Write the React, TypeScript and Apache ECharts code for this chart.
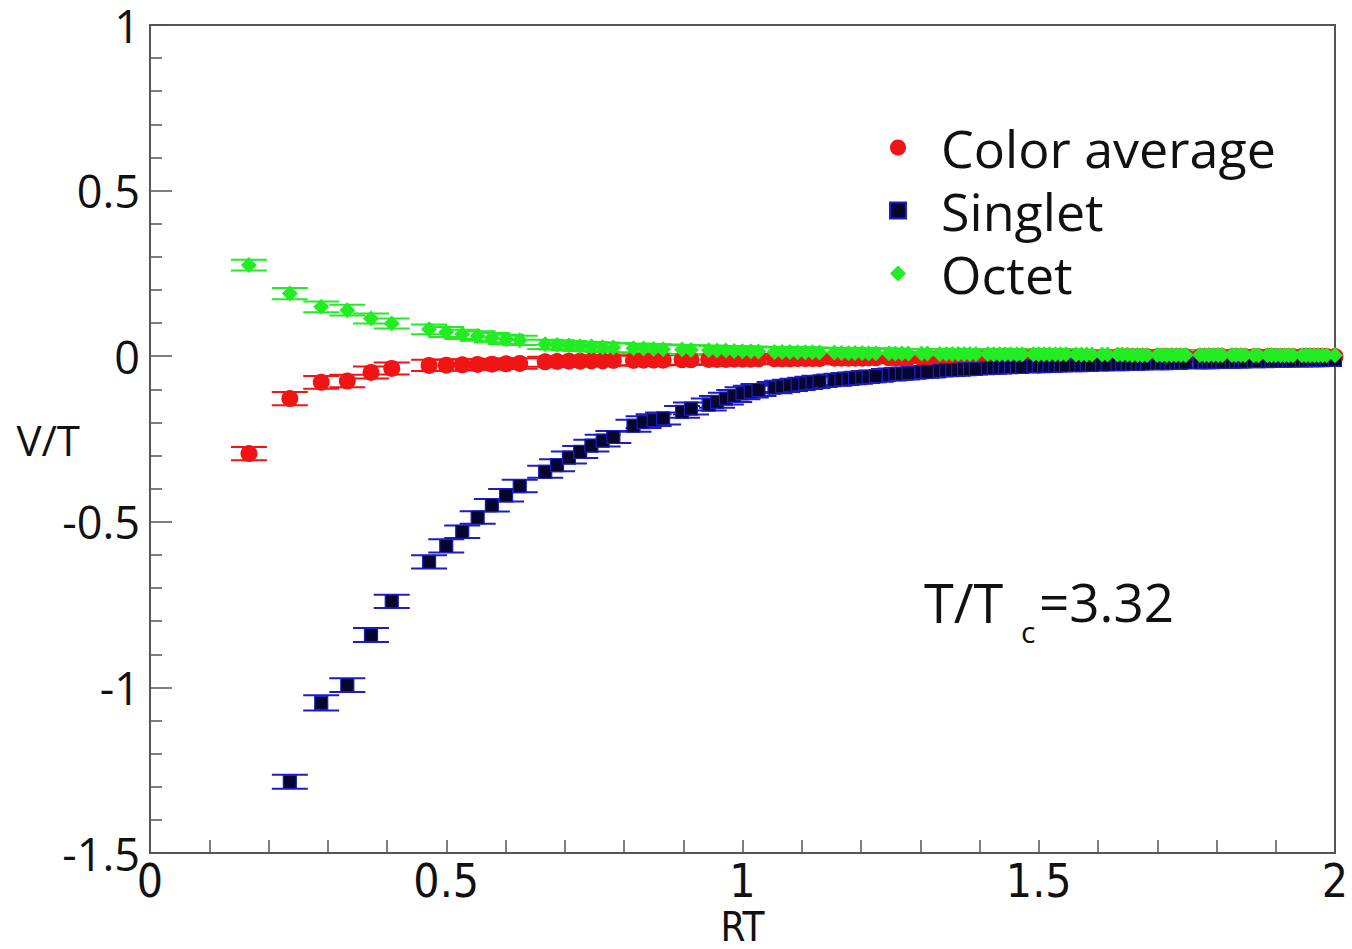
import React, { useEffect, useRef } from "react";
import * as echarts from "echarts";

// RT positions of the lattice separations
const rt = [
  0.167, 0.236, 0.289, 0.333, 0.373, 0.408, 0.471, 0.5, 0.527, 0.553, 0.577, 0.601, 0.624,
  0.667, 0.687, 0.707, 0.726, 0.745, 0.764, 0.782,
  0.816, 0.833, 0.85, 0.866,
  0.898, 0.913,
  0.943, 0.957, 0.972, 0.986, 1.0, 1.014, 1.027,
  1.054, 1.067, 1.08, 1.093, 1.106, 1.118, 1.13,
  1.155, 1.167, 1.179, 1.19, 1.202, 1.213, 1.225,
  1.247, 1.258, 1.269, 1.28,
  1.302, 1.312,
  1.333, 1.344, 1.354, 1.364, 1.374, 1.384, 1.394,
  1.414, 1.424, 1.434, 1.443, 1.453, 1.463, 1.472,
  1.491, 1.5, 1.509, 1.518, 1.528, 1.537, 1.546,
  1.563, 1.572, 1.581, 1.59,
  1.607, 1.616,
  1.633, 1.641, 1.65, 1.658, 1.667, 1.675, 1.683,
  1.7, 1.708, 1.716, 1.724, 1.732, 1.74, 1.748,
  1.772, 1.78, 1.787, 1.795, 1.803, 1.81,
  1.826, 1.833, 1.841, 1.848,
  1.863, 1.871,
  1.886, 1.893, 1.9, 1.908, 1.915, 1.922, 1.929,
  1.944, 1.951, 1.958, 1.965, 1.972, 1.979, 1.986,
  2.0,
];

const colorAverage = [
  -0.294, -0.128, -0.079, -0.075, -0.049, -0.037, -0.028, -0.027, -0.026, -0.025, -0.024, -0.023, -0.022,
  -0.017, -0.016, -0.015, -0.015, -0.014, -0.014, -0.013,
  -0.013, -0.012, -0.012, -0.012,
  -0.011, -0.011,
  -0.01, -0.01, -0.01, -0.009, -0.009, -0.009, -0.008,
  -0.008, -0.008, -0.008, -0.007, -0.007, -0.007, -0.007,
  -0.006, -0.006, -0.006, -0.006, -0.006, -0.005, -0.005,
  -0.005, -0.005, -0.005, -0.005,
  -0.005, -0.004,
  -0.004, -0.004, -0.004, -0.004, -0.004, -0.004, -0.004,
  -0.004, -0.004, -0.004, -0.003, -0.003, -0.003, -0.003,
  -0.003, -0.003, -0.003, -0.003, -0.003, -0.003, -0.003,
  -0.003, -0.003, -0.003, -0.003,
  -0.003, -0.003,
  -0.002, -0.002, -0.002, -0.002, -0.002, -0.002, -0.002,
  -0.002, -0.002, -0.002, -0.002, -0.002, -0.002, -0.002,
  -0.002, -0.002, -0.002, -0.002, -0.002, -0.002,
  -0.002, -0.002, -0.002, -0.002,
  -0.002, -0.002,
  -0.002, -0.002, -0.002, -0.002, -0.002, -0.002, -0.002,
  -0.001, -0.001, -0.001, -0.001, -0.001, -0.001, -0.001,
  -0.001,
];
const colorAverageErr = [
  0.02, 0.02, 0.019, 0.019, 0.018, 0.018, 0.017, 0.017, 0.017, 0.016, 0.016, 0.016, 0.016,
  0.015, 0.015, 0.015, 0.015, 0.015, 0.015, 0.015,
  0.015, 0.015, 0.015, 0.015,
  0.015, 0.015,
  0.015, 0.015, 0.015, 0.015, 0.015, 0.015, 0.015,
  0.015, 0.015, 0.015, 0.015, 0.015, 0.015, 0.015,
  0.015, 0.015, 0.015, 0.015, 0.015, 0.015, 0.015,
  0.015, 0.015, 0.015, 0.015,
  0.015, 0.015,
  0.015, 0.015, 0.015, 0.015, 0.015, 0.015, 0.015,
  0.015, 0.015, 0.015, 0.015, 0.015, 0.015, 0.015,
  0.015, 0.015, 0.015, 0.015, 0.015, 0.015, 0.015,
  0.015, 0.015, 0.015, 0.015,
  0.015, 0.015,
  0.015, 0.015, 0.015, 0.015, 0.015, 0.015, 0.015,
  0.015, 0.015, 0.015, 0.015, 0.015, 0.015, 0.015,
  0.015, 0.015, 0.015, 0.015, 0.015, 0.015,
  0.015, 0.015, 0.015, 0.015,
  0.015, 0.015,
  0.015, 0.015, 0.015, 0.015, 0.015, 0.015, 0.015,
  0.015, 0.015, 0.015, 0.015, 0.015, 0.015, 0.015,
  0.015,
];

// Singlet starts at the second separation
const singletRT = rt.slice(1);
const singlet = [
  -1.285, -1.047, -0.993, -0.842, -0.74, -0.621, -0.573, -0.53, -0.487, -0.45, -0.42, -0.392,
  -0.349, -0.329, -0.306, -0.289, -0.27, -0.255, -0.244,
  -0.21, -0.199, -0.193, -0.188,
  -0.168, -0.158,
  -0.146, -0.138, -0.128, -0.12, -0.112, -0.107, -0.102,
  -0.095, -0.091, -0.088, -0.085, -0.082, -0.079, -0.076,
  -0.072, -0.07, -0.068, -0.066, -0.064, -0.062, -0.06,
  -0.056, -0.054, -0.053, -0.051,
  -0.048, -0.047,
  -0.044, -0.043, -0.042, -0.041, -0.04, -0.039, -0.038,
  -0.036, -0.035, -0.034, -0.034, -0.033, -0.032, -0.032,
  -0.031, -0.03, -0.03, -0.029, -0.029, -0.028, -0.028,
  -0.027, -0.027, -0.026, -0.026,
  -0.025, -0.025,
  -0.024, -0.024, -0.023, -0.023, -0.023, -0.022, -0.022,
  -0.021, -0.021, -0.021, -0.02, -0.02, -0.02, -0.019,
  -0.019, -0.018, -0.018, -0.018, -0.017, -0.017,
  -0.017, -0.016, -0.016, -0.016,
  -0.015, -0.015,
  -0.015, -0.014, -0.014, -0.014, -0.014, -0.013, -0.013,
  -0.013, -0.013, -0.012, -0.012, -0.012, -0.012, -0.011,
  -0.011,
];
const singletErr = [
  0.021, 0.023, 0.021, 0.021, 0.02, 0.02, 0.02, 0.019, 0.019, 0.019, 0.019, 0.019,
  0.018, 0.018, 0.018, 0.018, 0.018, 0.018, 0.018,
  0.018, 0.018, 0.018, 0.018,
  0.018, 0.018,
  0.018, 0.018, 0.018, 0.018, 0.018, 0.018, 0.018,
  0.017, 0.017, 0.017, 0.017, 0.017, 0.017, 0.017,
  0.017, 0.017, 0.017, 0.017, 0.017, 0.017, 0.017,
  0.017, 0.017, 0.017, 0.017,
  0.017, 0.017,
  0.016, 0.016, 0.016, 0.016, 0.016, 0.016, 0.016,
  0.016, 0.016, 0.016, 0.016, 0.016, 0.016, 0.016,
  0.016, 0.016, 0.016, 0.016, 0.016, 0.016, 0.016,
  0.016, 0.016, 0.016, 0.016,
  0.016, 0.016,
  0.016, 0.016, 0.016, 0.016, 0.016, 0.016, 0.016,
  0.016, 0.016, 0.016, 0.016, 0.016, 0.016, 0.016,
  0.016, 0.016, 0.016, 0.016, 0.016, 0.016,
  0.016, 0.016, 0.016, 0.016,
  0.016, 0.016,
  0.016, 0.016, 0.016, 0.016, 0.016, 0.016, 0.016,
  0.016, 0.016, 0.016, 0.016, 0.016, 0.016, 0.016,
  0.016,
];

const octet = [
  0.275, 0.189, 0.149, 0.139, 0.114, 0.099, 0.081, 0.073, 0.066, 0.061, 0.056, 0.051, 0.048,
  0.036, 0.034, 0.032, 0.03, 0.029, 0.027, 0.026,
  0.024, 0.023, 0.022, 0.021,
  0.02, 0.019,
  0.018, 0.017, 0.017, 0.016, 0.015, 0.015, 0.014,
  0.013, 0.013, 0.013, 0.012, 0.012, 0.012, 0.011,
  0.011, 0.01, 0.01, 0.01, 0.01, 0.009, 0.009,
  0.009, 0.008, 0.008, 0.008,
  0.008, 0.008,
  0.007, 0.007, 0.007, 0.007, 0.007, 0.007, 0.007,
  0.007, 0.006, 0.006, 0.006, 0.006, 0.006, 0.006,
  0.006, 0.006, 0.006, 0.006, 0.006, 0.006, 0.006,
  0.005, 0.005, 0.005, 0.005,
  0.005, 0.005,
  0.005, 0.005, 0.005, 0.004, 0.004, 0.004, 0.004,
  0.004, 0.004, 0.004, 0.004, 0.004, 0.004, 0.004,
  0.004, 0.004, 0.004, 0.004, 0.004, 0.004,
  0.004, 0.004, 0.004, 0.004,
  0.003, 0.003,
  0.003, 0.003, 0.003, 0.003, 0.003, 0.003, 0.003,
  0.003, 0.003, 0.003, 0.003, 0.003, 0.003, 0.003,
  0.003,
];
const octetErr = [
  0.016, 0.017, 0.016, 0.016, 0.015, 0.015, 0.015, 0.015, 0.014, 0.014, 0.014, 0.014, 0.014,
  0.014, 0.014, 0.014, 0.014, 0.014, 0.014, 0.014,
  0.014, 0.014, 0.014, 0.014,
  0.014, 0.014,
  0.014, 0.014, 0.014, 0.014, 0.014, 0.014, 0.014,
  0.014, 0.014, 0.014, 0.014, 0.014, 0.014, 0.014,
  0.014, 0.014, 0.014, 0.014, 0.014, 0.014, 0.014,
  0.014, 0.014, 0.014, 0.014,
  0.014, 0.014,
  0.014, 0.014, 0.014, 0.014, 0.014, 0.014, 0.014,
  0.014, 0.014, 0.014, 0.014, 0.014, 0.014, 0.014,
  0.014, 0.014, 0.014, 0.014, 0.014, 0.014, 0.014,
  0.014, 0.014, 0.014, 0.014,
  0.014, 0.014,
  0.014, 0.014, 0.014, 0.014, 0.014, 0.014, 0.014,
  0.014, 0.014, 0.014, 0.014, 0.014, 0.014, 0.014,
  0.014, 0.014, 0.014, 0.014, 0.014, 0.014,
  0.014, 0.014, 0.014, 0.014,
  0.014, 0.014,
  0.014, 0.014, 0.014, 0.014, 0.014, 0.014, 0.014,
  0.014, 0.014, 0.014, 0.014, 0.014, 0.014, 0.014,
  0.014,
];

const RED = "#f01414";
const NAVY = "#05052e";
const BLUE = "#1c1cc8";
const GREEN = "#22ec22";
const SANS = "'Open Sans', 'Noto Sans', sans-serif";
const NARROW = "'Liberation Sans Narrow', 'DejaVu Sans Condensed', 'Open Sans', sans-serif";

function errorRender(color: string) {
  return (params: any, api: any) => {
    const x = api.value(0);
    const y = api.value(1);
    const e = api.value(2);
    const top = api.coord([x, y + e]);
    const bot = api.coord([x, y - e]);
    const hw = 18;
    const style = { stroke: color, lineWidth: 2 };
    return {
      type: "group",
      children: [
        { type: "line", shape: { x1: top[0], y1: top[1], x2: bot[0], y2: bot[1] }, style },
        { type: "line", shape: { x1: top[0] - hw, y1: top[1], x2: top[0] + hw, y2: top[1] }, style },
        { type: "line", shape: { x1: bot[0] - hw, y1: bot[1], x2: bot[0] + hw, y2: bot[1] }, style },
      ],
    };
  };
}

export default function App() {
  const ref = useRef<HTMLDivElement>(null);

  useEffect(() => {
    if (!ref.current) return;
    const chart = echarts.init(ref.current, undefined, { renderer: "svg" });

    const caData = colorAverage.map((v, i) => [rt[i], v, colorAverageErr[i]]);
    const sData = singlet.map((v, i) => [singletRT[i], v, singletErr[i]]);
    const oData = octet.map((v, i) => [rt[i], v, octetErr[i]]);

    chart.setOption({
      animation: false,
      backgroundColor: "#ffffff",
      grid: {
        left: 150,
        top: 25,
        right: 17,
        bottom: 96,
        containLabel: false,
        outerBoundsMode: "none",
        show: true,
        borderColor: "#555",
        borderWidth: 2,
        backgroundColor: "transparent",
      },
      xAxis: {
        type: "value",
        min: 0,
        max: 2,
        interval: 0.5,
        name: "RT",
        nameLocation: "middle",
        nameGap: 54,
        nameMoveOverlap: false,
        nameTextStyle: { fontSize: 40, fontFamily: NARROW, color: "#111", verticalAlign: "top" },
        axisLine: { show: true, onZero: false, lineStyle: { color: "#555", width: 2 } },
        axisTick: { show: true, inside: true, length: 13, lineStyle: { color: "#555", width: 1.5 } },
        minorTick: { show: true, splitNumber: 5, length: 13, lineStyle: { color: "#555", width: 1.5 } },
        splitLine: { show: false },
        axisLabel: {
          fontSize: 46,
          fontFamily: NARROW,
          color: "#111",
          margin: 5,
          formatter: (v: number) => String(v),
        },
      },
      yAxis: {
        type: "value",
        min: -1.5,
        max: 1,
        interval: 0.5,
        name: "V/T",
        nameLocation: "middle",
        nameRotate: 0,
        nameGap: 70,
        nameMoveOverlap: false,
        nameTextStyle: { fontSize: 42, fontFamily: SANS, color: "#111", align: "right" },
        axisLine: { show: true, onZero: false, lineStyle: { color: "#555", width: 2 } },
        axisTick: { show: true, inside: true, length: 22, lineStyle: { color: "#555", width: 1.5 } },
        minorTick: { show: true, splitNumber: 5, length: 12, lineStyle: { color: "#555", width: 1.5 } },
        splitLine: { show: false },
        axisLabel: {
          fontSize: 45,
          fontFamily: SANS,
          color: "#111",
          margin: 10,
          formatter: (v: number) => String(v),
        },
      },
      legend: {
        data: ["Color average", "Singlet", "Octet"],
        orient: "vertical",
        left: 889,
        top: 116,
        padding: 0,
        itemGap: 0,
        itemWidth: 16,
        itemHeight: 16,
        selectedMode: false,
        textStyle: {
          fontSize: 52,
          fontFamily: SANS,
          color: "#111",
          lineHeight: 63,
          padding: [0, 0, 0, 30],
        },
      },
      graphic: [
        { type: "text", left: 924, top: 575, style: { text: "T/T", fontSize: 54, fontFamily: SANS, fill: "#111" } },
        { type: "text", left: 1021, top: 616, style: { text: "c", fontSize: 30, fontFamily: SANS, fill: "#111" } },
        { type: "text", left: 1039, top: 575, style: { text: "=3.32", fontSize: 53, fontFamily: SANS, fill: "#111" } },
      ],
      series: [
        {
          type: "custom",
          name: "Color average error",
          renderItem: errorRender(RED),
          data: caData,
          encode: { x: 0, y: 1 },
          clip: true,
          silent: true,
        },
        {
          type: "scatter",
          name: "Color average",
          data: caData.map((d) => [d[0], d[1]]),
          symbol: "circle",
          symbolSize: 17,
          itemStyle: { color: RED, opacity: 1 },
          clip: true,
        },
        {
          type: "custom",
          name: "Singlet error",
          renderItem: errorRender(BLUE),
          data: sData,
          encode: { x: 0, y: 1 },
          clip: true,
          silent: true,
        },
        {
          type: "scatter",
          name: "Singlet",
          data: sData.map((d) => [d[0], d[1]]),
          symbol: "rect",
          symbolSize: 13,
          itemStyle: { color: NAVY, borderColor: BLUE, borderWidth: 1.2, opacity: 1 },
          clip: true,
        },
        {
          type: "custom",
          name: "Octet error",
          renderItem: errorRender(GREEN),
          data: oData,
          encode: { x: 0, y: 1 },
          clip: true,
          silent: true,
        },
        {
          type: "scatter",
          name: "Octet",
          data: oData.map((d) => [d[0], d[1]]),
          symbol: "diamond",
          symbolSize: 16,
          itemStyle: { color: GREEN, opacity: 1 },
          clip: true,
        },
      ],
    });

    return () => chart.dispose();
  }, []);

  return (
    <div
      ref={ref}
      style={{ position: "absolute", left: 0, top: 0, width: 1352, height: 949, background: "#fff" }}
    />
  );
}
